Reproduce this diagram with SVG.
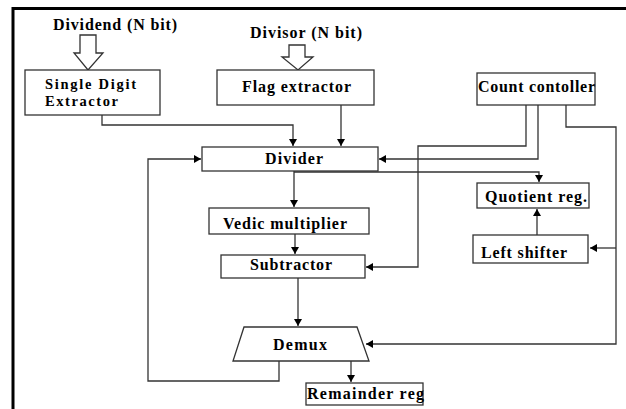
<svg xmlns="http://www.w3.org/2000/svg" width="626" height="409" viewBox="0 0 626 409">
<style>
.box{fill:#fff;stroke:#333;stroke-width:1.3}
.t{font-family:"Liberation Serif","Times New Roman",serif;font-weight:bold;font-size:16px;fill:#000}
.s{font-size:14.5px}
.c{fill:none;stroke:#333;stroke-width:1.3}
.frame{fill:none;stroke:#000;stroke-width:3}
</style>
<defs>
<marker id="ah" markerWidth="8" markerHeight="8" refX="7" refY="4" orient="auto" markerUnits="userSpaceOnUse">
<path d="M0,0 L7,4 L0,8 z" fill="#000"/>
</marker>
</defs>
<rect width="626" height="409" fill="#fff"/>
<path class="frame" d="M13,409 V8.5 H626"/>

<g id="dividend-input">
<text class="t" x="53" y="30" textLength="124" lengthAdjust="spacing">Dividend (N bit)</text>
<path class="box" d="M80,35 H96 V53 H103 L88,70 L74,53 H80 z"/>
</g>
<g id="divisor-input">
<text class="t" x="250" y="38" textLength="112" lengthAdjust="spacing">Divisor (N bit)</text>
<path class="box" d="M289,45 H305 V57 H313 L298,70 L282,57 H289 z"/>
</g>

<g id="single-digit-extractor">
<rect class="box" x="25" y="70" width="135" height="45"/>
<text class="t s" x="45" y="89" textLength="91" lengthAdjust="spacing">Single Digit</text>
<text class="t s" x="45" y="105.5" textLength="73" lengthAdjust="spacing">Extractor</text>
</g>
<g id="flag-extractor">
<rect class="box" x="217" y="70" width="157" height="35"/>
<text class="t" x="242" y="92" textLength="109" lengthAdjust="spacing">Flag extractor</text>
</g>
<g id="count-controller">
<rect class="box" x="477" y="73" width="118" height="32"/>
<text class="t" x="478" y="92" textLength="117" lengthAdjust="spacing">Count contoller</text>
</g>
<g id="divider">
<rect class="box" x="202" y="147" width="176" height="24"/>
<text class="t" x="265" y="164" textLength="58" lengthAdjust="spacing">Divider</text>
</g>
<g id="vedic-multiplier">
<rect class="box" x="209" y="208" width="160" height="26"/>
<text class="t" x="223" y="229" textLength="124" lengthAdjust="spacing">Vedic multiplier</text>
</g>
<g id="subtractor">
<rect class="box" x="221" y="255" width="144" height="23"/>
<text class="t" x="250" y="270" textLength="82" lengthAdjust="spacing">Subtractor</text>
</g>
<g id="demux">
<path class="box" d="M244,327 H357 L369,361 H233 z"/>
<text class="t" x="273" y="350" textLength="54" lengthAdjust="spacing">Demux</text>
</g>
<g id="quotient-reg">
<rect class="box" x="477" y="183" width="112" height="25"/>
<text class="t" x="485" y="202" textLength="102" lengthAdjust="spacing">Quotient reg.</text>
</g>
<g id="left-shifter">
<rect class="box" x="473" y="235" width="115" height="28"/>
<text class="t" x="481" y="258" textLength="86" lengthAdjust="spacing">Left shifter</text>
</g>
<g id="remainder-reg">
<rect class="box" x="306" y="383" width="117" height="22"/>
<text class="t" x="307" y="399" textLength="117" lengthAdjust="spacing">Remainder reg</text>
</g>

<g id="connectors">
<path class="c" d="M102,115 V125 H293 V146" marker-end="url(#ah)"/>
<path class="c" d="M341,105 V146" marker-end="url(#ah)"/>
<path class="c" d="M538,105 V159 H379" marker-end="url(#ah)"/>
<path class="c" d="M526,105 V146 H418 V267 H366" marker-end="url(#ah)"/>
<path class="c" d="M566,105 V127 H616 V344 H366" marker-end="url(#ah)"/>
<path class="c" d="M616,248 H590" marker-end="url(#ah)"/>
<path class="c" d="M294,171 V207" marker-end="url(#ah)"/>
<path class="c" d="M294,172 H539 V182" marker-end="url(#ah)"/>
<path class="c" d="M537,235 V209" marker-end="url(#ah)"/>
<path class="c" d="M295,234 V254" marker-end="url(#ah)"/>
<path class="c" d="M298,278 V326" marker-end="url(#ah)"/>
<path class="c" d="M279,361 V381 H148 V159 H201" marker-end="url(#ah)"/>
<path class="c" d="M351,361 V382" marker-end="url(#ah)"/>
</g>
</svg>
